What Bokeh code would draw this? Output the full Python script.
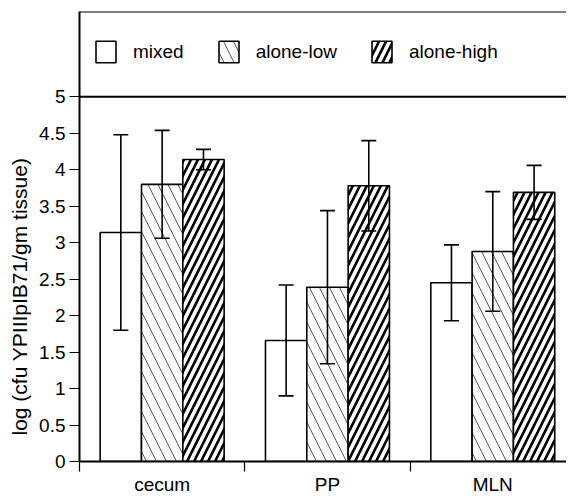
from bokeh.plotting import figure
from bokeh.models import (ColumnDataSource, Range1d, FixedTicker, Whisker, TeeHead,
                          Span, Legend, LegendItem, Title)
from bokeh.embed import file_html
from bokeh.resources import INLINE

# ---- data ----
categories = ["cecum", "PP", "MLN"]
series = ["mixed", "alone-low", "alone-high"]
mixed = [3.14, 1.66, 2.45]
mixed_err = [1.34, 0.76, 0.52]
alone_low = [3.80, 2.39, 2.88]
alone_low_err = [0.74, 1.05, 0.82]
alone_high = [4.14, 3.78, 3.69]
alone_high_err = [0.14, 0.62, 0.37]
y_ticks = [0, 0.5, 1, 1.5, 2, 2.5, 3, 3.5, 4, 4.5, 5]
y_tick_labels = ["0", "0.5", "1", "1.5", "2", "2.5", "3", "3.5", "4", "4.5", "5"]
y_axis_label = "log (cfu YPIIIpIB71/gm tissue)"
y_top = 6.17
legend_line = 5

FONT = "Liberation Sans"

p = figure(width=566, height=497, output_backend="svg", toolbar_location=None,
           x_range=Range1d(0, 2.946), y_range=Range1d(0, y_top),
           min_border_left=79, min_border_right=0, min_border_top=11, min_border_bottom=20)
p.xgrid.grid_line_color = None
p.ygrid.grid_line_color = None
p.outline_line_color = None
p.background_fill_color = "white"
p.border_fill_color = "white"

values = [mixed, alone_low, alone_high]
errors = [mixed_err, alone_low_err, alone_high_err]
offsets = [-0.25, 0.0, 0.25]
styles = [
    dict(hatch_pattern=" "),
    dict(hatch_pattern="\\", hatch_scale=20, hatch_weight=1.0, hatch_color="#555555"),
    dict(hatch_pattern="/", hatch_scale=14, hatch_weight=2.6, hatch_color="black"),
]
renderers = []
for vals, errs, off, st in zip(values, errors, offsets, styles):
    xs = [k + 0.5 + off for k in range(len(categories))]
    src = ColumnDataSource(dict(x=xs, top=vals,
                                upper=[v + e for v, e in zip(vals, errs)],
                                lower=[v - e for v, e in zip(vals, errs)]))
    r = p.vbar(x="x", top="top", bottom=0, width=0.25, source=src,
               fill_color="white", line_color="black", line_width=1.6, **st)
    renderers.append(r)
    w = Whisker(source=src, base="x", upper="upper", lower="lower", level="overlay",
                line_color="black", line_width=1.6,
                upper_head=TeeHead(size=15, line_width=1.6, line_color="black"),
                lower_head=TeeHead(size=15, line_width=1.6, line_color="black"))
    p.add_layout(w)

# separator lines
p.add_layout(Span(location=legend_line, dimension="width", line_color="black", line_width=2))
p.add_layout(Span(location=y_top, dimension="width", line_color="black", line_width=2))

# x axis
xa = p.xaxis[0]
xa.ticker = FixedTicker(ticks=[k + 0.5 for k in range(len(categories))],
                        minor_ticks=list(range(len(categories) + 1)))
xa.major_label_overrides = {k + 0.5: c for k, c in enumerate(categories)}
xa.major_tick_out = 0
xa.major_tick_in = 0
xa.minor_tick_out = 10
xa.minor_tick_in = 0
xa.minor_tick_line_color = "black"
xa.minor_tick_line_width = 1.2
xa.axis_line_width = 2
xa.axis_line_color = "black"
xa.major_label_standoff = 2
xa.major_label_text_font = FONT
xa.major_label_text_font_size = "19px"
xa.major_label_text_color = "black"

# y axis
ya = p.yaxis[0]
ya.ticker = FixedTicker(ticks=y_ticks, minor_ticks=[])
ya.major_label_overrides = {t: l for t, l in zip(y_ticks, y_tick_labels)}
ya.major_tick_out = 10
ya.major_tick_in = 0
ya.major_tick_line_width = 1.2
ya.major_tick_line_color = "black"
ya.axis_line_width = 2
ya.axis_line_color = "black"
ya.major_label_standoff = 4
ya.major_label_text_font = FONT
ya.major_label_text_font_size = "19px"
ya.major_label_text_color = "black"

# y axis title, as a side title so it can sit lower than the frame centre
p.add_layout(Title(text=y_axis_label, align="left", offset=26, standoff=11,
                   text_font=FONT, text_font_size="21px", text_font_style="normal",
                   text_color="black"), "left")

legend = Legend(items=[LegendItem(label=s, renderers=[r]) for s, r in zip(series, renderers)],
                orientation="horizontal", location=(14, 396),
                glyph_width=25, glyph_height=27, label_standoff=15, spacing=32,
                padding=0, margin=0, border_line_color=None, background_fill_alpha=0,
                label_text_font=FONT, label_text_font_size="19px", label_text_color="black")
p.add_layout(legend)

open("out.html", "w").write(file_html(p, INLINE))
